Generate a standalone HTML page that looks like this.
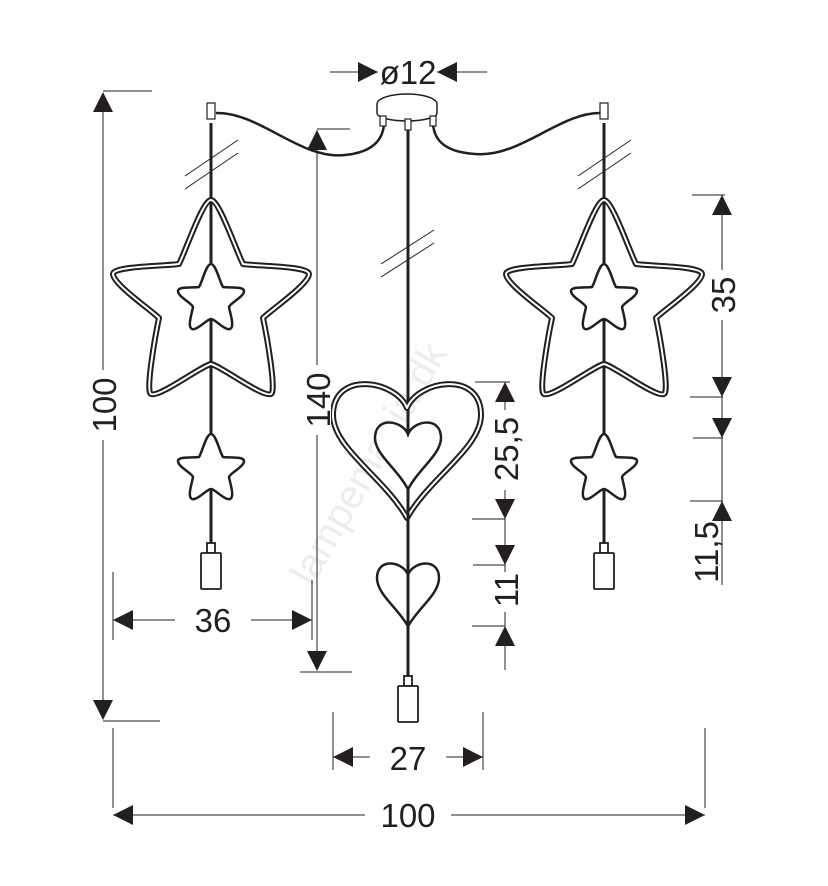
<!DOCTYPE html>
<html><head><meta charset="utf-8"><style>
html,body{margin:0;padding:0;background:#fff}
svg{display:block}
text{font-family:"Liberation Sans",sans-serif;fill:#231f20}
</style></head><body>
<svg width="828" height="886" viewBox="0 0 828 886" xmlns="http://www.w3.org/2000/svg">
<defs>
<path id="bigstar" d="M0,-70 C8,-70 25,-20 32,-6 C45,-4 98,-4 98,4 C98,14 60,40 52,48 C55,62 66,122 60,124 C52,128 10,96 0,94 C-10,96 -52,128 -60,124 C-66,122 -55,62 -52,48 C-60,40 -98,14 -98,4 C-98,-4 -45,-4 -32,-6 C-25,-20 -8,-70 0,-70 Z"/>
<path id="smstar" d="M0,-33 C5,-33 9,-14 12,-10 C17,-9 33,-11 33,-6 C33,0 19,6 18,10 C19,16 24,30 19,32 C14,34 4,22 0,22 C-4,22 -14,34 -19,32 C-24,30 -19,16 -18,10 C-19,6 -33,0 -33,-6 C-33,-11 -17,-9 -12,-10 C-9,-14 -5,-33 0,-33 Z"/>
</defs>
<text x="380" y="470" transform="rotate(-60 380 470)" font-size="40" style="fill:#ededed" text-anchor="middle">lampemania.dk</text>

<g fill="none" stroke="#231f20">
<path d="M216,113 C260,112 300,160 345,155 C375,152 383,138 384,124" stroke-width="2.5"/>
<path d="M601,113 C560,112 520,158 475,154 C442,152 434,138 433,124" stroke-width="2.5"/>
<line x1="211" y1="123" x2="211" y2="545" stroke-width="3"/>
<line x1="604" y1="123" x2="604" y2="545" stroke-width="3"/>
<line x1="408" y1="130" x2="408" y2="680" stroke-width="3"/>
</g>
<path d="M377,104 A30,10 0 0 1 437,104 L437,113 A30,8 0 0 1 377,113 Z" fill="#fff" stroke="#231f20" stroke-width="1.5"/>
<g fill="#fff" stroke="#231f20" stroke-width="1.2">
<rect x="380" y="116" width="6" height="10"/><rect x="405" y="119" width="6" height="11"/><rect x="430" y="116" width="6" height="10"/>
<rect x="207" y="103" width="8" height="16"/><rect x="600" y="103" width="8" height="16"/>
</g>
<g stroke="#231f20" stroke-width="1">
<line x1="185" y1="176" x2="238" y2="140"/><line x1="185" y1="189" x2="238" y2="153"/>
<line x1="578" y1="176" x2="631" y2="140"/><line x1="578" y1="189" x2="631" y2="153"/>
<line x1="381" y1="264" x2="434" y2="230"/><line x1="381" y1="277" x2="434" y2="243"/>
</g>
<g fill="none" stroke-linejoin="round">
<use href="#bigstar" transform="translate(211,270)" stroke="#231f20" stroke-width="6"/>
<use href="#bigstar" transform="translate(211,270)" stroke="#fff" stroke-width="2"/>
<use href="#bigstar" transform="translate(604,270)" stroke="#231f20" stroke-width="6"/>
<use href="#bigstar" transform="translate(604,270)" stroke="#fff" stroke-width="2"/>
</g>
<g fill="#fff" stroke="#231f20" stroke-width="2.5">
<use href="#smstar" transform="translate(211,297)"/>
<use href="#smstar" transform="translate(604,297)"/>
<use href="#smstar" transform="translate(211,467)"/>
<use href="#smstar" transform="translate(604,467)"/>
</g>
<path d="M407,408 C395.9,380 333,370 333,415 C333,448 384.8,478 407,518 C429.2,478 481,448 481,415 C481,370 418.1,380 407,408 Z" fill="none" stroke="#231f20" stroke-width="6" stroke-linejoin="round"/>
<path d="M407,408 C395.9,380 333,370 333,415 C333,448 384.8,478 407,518 C429.2,478 481,448 481,415 C481,370 418.1,380 407,408 Z" fill="none" stroke="#fff" stroke-width="2" stroke-linejoin="round"/>
<path d="M408,434.5 C403,420.5 375,415.5 375,438 C375,454.5 398.1,469.5 408,489.5 C417.9,469.5 441,454.5 441,438 C441,415.5 413,420.5 408,434.5 Z" fill="#fff" stroke="#231f20" stroke-width="2.5"/>
<path d="M408,574.8 C403.4,561.6 377,556.9 377,578 C377,594.5 398.7,608.6 408,626.5 C417.3,608.6 439,594.5 439,578 C439,556.9 412.6,561.6 408,574.8 Z" fill="#fff" stroke="#231f20" stroke-width="2.5"/>
<line x1="408" y1="489" x2="408" y2="680" stroke="#231f20" stroke-width="3"/>
<g fill="#fff" stroke="#231f20" stroke-width="1.8">
<rect x="207" y="543" width="8" height="10"/><rect x="201" y="553" width="20" height="36" rx="1"/>
<rect x="600" y="543" width="8" height="10"/><rect x="594" y="553" width="20" height="36" rx="1"/>
<rect x="404" y="676" width="8" height="10"/><rect x="398" y="686" width="20" height="36" rx="1"/>
</g>
<g stroke="#231f20" stroke-width="1">
<line x1="103" y1="95" x2="103" y2="718"/><line x1="103" y1="91" x2="152" y2="91"/><line x1="103" y1="721" x2="160" y2="721"/>
<line x1="317" y1="130" x2="317" y2="670"/><line x1="317" y1="129" x2="350" y2="129"/><line x1="300" y1="672" x2="352" y2="672"/>
<line x1="113" y1="620" x2="312" y2="620"/><line x1="113" y1="572" x2="113" y2="640"/><line x1="312" y1="580" x2="312" y2="640"/>
<line x1="333" y1="757" x2="483" y2="757"/><line x1="333" y1="712" x2="333" y2="770"/><line x1="483" y1="712" x2="483" y2="770"/>
<line x1="113" y1="815" x2="705" y2="815"/><line x1="113" y1="728" x2="113" y2="808"/><line x1="705" y1="728" x2="705" y2="808"/>
<line x1="330" y1="72" x2="378" y2="72"/><line x1="437" y1="72" x2="487" y2="72"/>
<line x1="722" y1="195" x2="722" y2="585"/>
<line x1="692" y1="195" x2="725" y2="195"/><line x1="690" y1="397" x2="723" y2="397"/><line x1="693" y1="438" x2="723" y2="438"/><line x1="690" y1="501" x2="723" y2="501"/>
<line x1="505" y1="382" x2="505" y2="670"/>
<line x1="475" y1="382" x2="510" y2="382"/><line x1="472" y1="519" x2="505" y2="519"/><line x1="473" y1="565" x2="505" y2="565"/><line x1="472" y1="626" x2="505" y2="626"/>
</g>
<g fill="#fff">
<rect x="175" y="605" width="76" height="32"/>
<rect x="370" y="742" width="76" height="32"/>
<rect x="365" y="800" width="86" height="32"/>
<rect x="90" y="370" width="28" height="70"/>
<rect x="303" y="365" width="28" height="70"/>
<rect x="708" y="270" width="28" height="50"/>
<rect x="491" y="410" width="28" height="80"/>
<rect x="491" y="572" width="28" height="40"/>
</g>
<g fill="#231f20">
<path d="M103,92 l-10,20 h20z"/><path d="M103,720 l-10,-20 h20z"/>
<path d="M317,130 l-10,20 h20z"/><path d="M317,671 l-10,-20 h20z"/>
<path d="M113,620 l20,-10 v20z"/><path d="M312,620 l-20,-10 v20z"/>
<path d="M333,757 l20,-10 v20z"/><path d="M483,757 l-20,-10 v20z"/>
<path d="M113,815 l20,-10 v20z"/><path d="M705,815 l-20,-10 v20z"/>
<path d="M378,72 l-20,-10 v20z"/><path d="M437,72 l20,-10 v20z"/>
<path d="M722,195 l-10,20 h20z"/><path d="M722,397 l-10,-20 h20z"/><path d="M722,438 l-10,-20 h20z"/><path d="M722,501 l-10,20 h20z"/>
<path d="M505,382 l-10,20 h20z"/><path d="M505,519 l-10,-20 h20z"/><path d="M505,565 l-10,-20 h20z"/><path d="M505,626 l-10,20 h20z"/>
</g>
<g font-size="33" text-anchor="middle">
<text x="408" y="84">ø12</text>
<text x="213" y="632">36</text>
<text x="408" y="770">27</text>
<text x="408" y="827">100</text>
<text x="116" y="405" transform="rotate(-90 116 405)">100</text>
<text x="330" y="400" transform="rotate(-90 330 400)">140</text>
<text x="735" y="295" transform="rotate(-90 735 295)">35</text>
<text x="718" y="552" transform="rotate(-90 718 552)">11,5</text>
<text x="518" y="449" transform="rotate(-90 518 449)">25,5</text>
<text x="518" y="590" transform="rotate(-90 518 590)">11</text>
</g>
</svg>
</body></html>
